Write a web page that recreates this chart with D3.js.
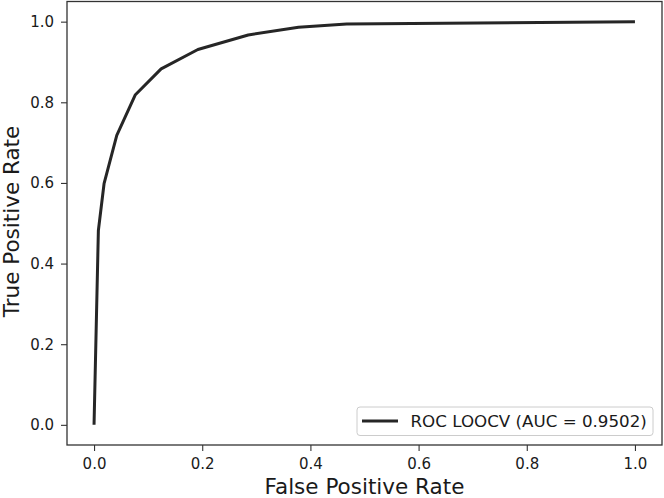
<!DOCTYPE html>
<html><head><meta charset="utf-8">
<script src="https://cdn.jsdelivr.net/npm/d3@7"></script>
<style>
html,body{margin:0;padding:0;background:#fff;}
svg{display:block;font-family:"DejaVu Sans",sans-serif;}
</style></head>
<body><svg id="c" width="664" height="498"></svg>
<script>
const fpr = [0.0, 0.008, 0.0185, 0.042, 0.076, 0.124, 0.192, 0.285, 0.378, 0.467, 1.0];
const tpr = [0.0, 0.482, 0.598, 0.718, 0.818, 0.883, 0.931, 0.967, 0.986, 0.994, 1.0];
const xTicks = [0.0, 0.2, 0.4, 0.6, 0.8, 1.0];
const yTicks = [0.0, 0.2, 0.4, 0.6, 0.8, 1.0];
const legendLabel = "ROC LOOCV (AUC = 0.9502)";
const xLabel = "False Positive Rate";
const yLabel = "True Positive Rate";

const svg = d3.select("#c");
const L = 67, R = 662, T = 1.5, B = 445;
const x = d3.scaleLinear().domain([-0.05, 1.05]).range([L, R]);
const y = d3.scaleLinear().domain([-0.05, 1.05]).range([B, T]);
const axisColor = "#333";
const textColor = "#1a1a1a";

const gx = svg.append("g").attr("transform", `translate(0,${B})`)
  .call(d3.axisBottom(x).tickValues(xTicks).tickFormat(d3.format(".1f")).tickSize(6).tickPadding(7));
const gy = svg.append("g").attr("transform", `translate(${L},0)`)
  .call(d3.axisLeft(y).tickValues(yTicks).tickFormat(d3.format(".1f")).tickSize(6).tickPadding(7));
[gx, gy].forEach(g => {
  g.select(".domain").remove();
  g.selectAll(".tick line").attr("stroke", axisColor).attr("stroke-width", 1.1);
  g.selectAll(".tick text").attr("fill", textColor).style("font-size", "15px").style("font-family", "DejaVu Sans");
});
gx.selectAll(".tick text").attr("y", 24.3).attr("dy", "0");

svg.append("rect").attr("x", L).attr("y", T).attr("width", R - L).attr("height", B - T)
  .attr("fill", "none").attr("stroke", axisColor).attr("stroke-width", 1.3);

const pts = fpr.map((f, i) => [f, tpr[i]]);
svg.append("path").datum(pts)
  .attr("d", d3.line().x(d => x(d[0])).y(d => y(d[1])))
  .attr("fill", "none").attr("stroke", "#262626").attr("stroke-width", 3)
  .attr("stroke-linejoin", "round");

svg.append("text").attr("x", (L + R) / 2).attr("y", 494).attr("text-anchor", "middle")
  .style("font-size", "21.5px").attr("fill", textColor).text(xLabel);
svg.append("text").attr("transform", `translate(19,221.5) rotate(-90)`).attr("text-anchor", "middle")
  .style("font-size", "21.5px").attr("fill", textColor).text(yLabel);

// legend
const lg = svg.append("g");
lg.append("rect").attr("x", 357).attr("y", 407).attr("width", 296).attr("height", 28.5).attr("rx", 3)
  .attr("fill", "#fff").attr("fill-opacity", 0.8).attr("stroke", "#cccccc").attr("stroke-width", 1);
lg.append("line").attr("x1", 362).attr("x2", 398).attr("y1", 421).attr("y2", 421)
  .attr("stroke", "#262626").attr("stroke-width", 3);
lg.append("text").attr("x", 410.5).attr("y", 421).attr("dy", "0.36em")
  .style("font-size", "16.7px").attr("fill", textColor).text(legendLabel);
</script></body></html>
